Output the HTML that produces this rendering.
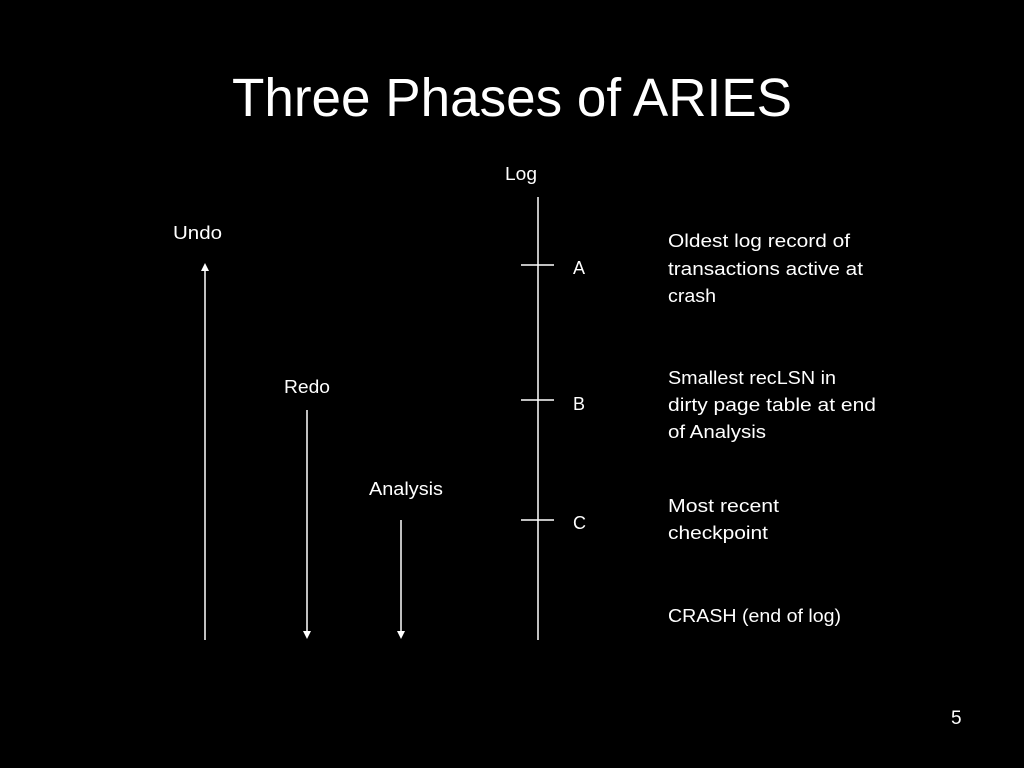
<!DOCTYPE html>
<html><head><meta charset="utf-8"><style>
html,body{margin:0;padding:0;background:#000;width:1024px;height:768px;overflow:hidden}
svg{display:block}
text{font-family:"Liberation Sans",sans-serif;fill:#fff}
</style></head><body>
<svg width="1024" height="768" viewBox="0 0 1024 768">
<rect width="1024" height="768" fill="#000"/>
<text x="232" y="116" font-size="54" textLength="560" lengthAdjust="spacingAndGlyphs">Three Phases of ARIES</text>
<g stroke="#fff" stroke-width="1.5">
<line x1="538" y1="197" x2="538" y2="640"/>
<line x1="521" y1="265" x2="554" y2="265"/>
<line x1="521" y1="400" x2="554" y2="400"/>
<line x1="521" y1="520" x2="554" y2="520"/>
<line x1="205" y1="270" x2="205" y2="640"/>
<line x1="307" y1="410" x2="307" y2="632"/>
<line x1="401" y1="520" x2="401" y2="632"/>
</g>
<g fill="#fff">
<polygon points="205,263 201,271 209,271"/>
<polygon points="307,639 303,631 311,631"/>
<polygon points="401,639 397,631 405,631"/>
</g>
<g font-size="18">
<text x="505" y="180" textLength="32" lengthAdjust="spacingAndGlyphs">Log</text>
<text x="173" y="239" textLength="49" lengthAdjust="spacingAndGlyphs">Undo</text>
<text x="284" y="393" textLength="46" lengthAdjust="spacingAndGlyphs">Redo</text>
<text x="369" y="495" textLength="74" lengthAdjust="spacingAndGlyphs">Analysis</text>
<text x="573" y="274">A</text>
<text x="573" y="410">B</text>
<text x="573" y="529">C</text>
<text x="668" y="247" textLength="182" lengthAdjust="spacingAndGlyphs">Oldest log record of</text>
<text x="668" y="275" textLength="195" lengthAdjust="spacingAndGlyphs">transactions active at</text>
<text x="668" y="302" textLength="48" lengthAdjust="spacingAndGlyphs">crash</text>
<text x="668" y="384" textLength="168" lengthAdjust="spacingAndGlyphs">Smallest recLSN in</text>
<text x="668" y="411" textLength="208" lengthAdjust="spacingAndGlyphs">dirty page table at end</text>
<text x="668" y="438" textLength="98" lengthAdjust="spacingAndGlyphs">of Analysis</text>
<text x="668" y="512" textLength="111" lengthAdjust="spacingAndGlyphs">Most recent</text>
<text x="668" y="539" textLength="100" lengthAdjust="spacingAndGlyphs">checkpoint</text>
<text x="668" y="622" textLength="173" lengthAdjust="spacingAndGlyphs">CRASH (end of log)</text>
<text x="951" y="724" font-size="19">5</text>
</g>
</svg>
</body></html>
